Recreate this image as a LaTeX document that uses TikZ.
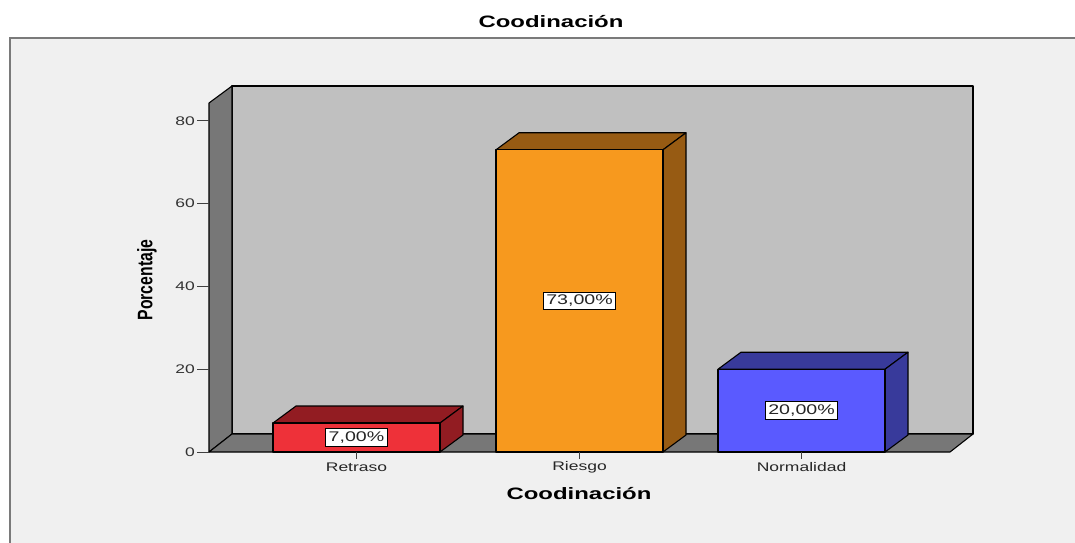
\documentclass[tikz,border=0pt]{standalone}
\usepackage{fontspec}
\setmainfont{Liberation Sans}
\newfontfamily\widefont[FakeStretch=1.4]{Liberation Sans}
\newfontfamily\titlefont[FakeStretch=1.45]{Liberation Sans}
\newfontfamily\narrowfont[FakeStretch=0.75]{Liberation Sans}
\definecolor{bgc}{HTML}{F0F0F0}
\definecolor{framec}{HTML}{7A7A7A}
\definecolor{wallc}{HTML}{C0C0C0}
\definecolor{sidec}{HTML}{777777}
\definecolor{redf}{HTML}{EE3139}
\definecolor{redd}{HTML}{921C22}
\definecolor{orf}{HTML}{F7991E}
\definecolor{ord}{HTML}{975B13}
\definecolor{blf}{HTML}{5A5AFF}
\definecolor{bld}{HTML}{383A9B}
\tikzset{
  edge/.style={draw=black, line width=1.1pt, line join=round},
  valbox/.style={draw=black, fill=white, line width=0.9pt, inner xsep=3pt, inner ysep=3pt, font=\widefont\fontsize{14}{15}\selectfont, text=black!85},
  ticklab/.style={anchor=east, inner sep=1pt, font=\widefont\fontsize{12.5}{13}\selectfont, text=black!80},
  catlab/.style={inner sep=0pt, font=\widefont\fontsize{12.5}{13}\selectfont, text=black!85},
  axtick/.style={draw=black!75, line width=1pt}
}
\begin{document}
\begin{tikzpicture}[x=1pt,y=-1pt]
\useasboundingbox (0,0) rectangle (1075,542);
\fill[white] (0,0) rectangle (1075,542);
\draw[fill=bgc, draw=framec, line width=2pt] (10,38) rectangle (1085,552);
% title
\node[font=\titlefont\bfseries\fontsize{16.5}{17}\selectfont] (title) at (551,22) {Coodinación};
% back wall, left wall, floor
\draw[edge, fill=wallc] (232,86) rectangle (973,434);
\draw[edge, fill=sidec] (209,103) -- (232,86) -- (232,434) -- (209,452) -- cycle;
\draw[edge, fill=sidec] (209,452) -- (232,434) -- (973,434) -- (950,452) -- cycle;
% y axis ticks
\foreach \v in {0,20,40,60,80}{
  \pgfmathsetmacro\yy{452-\v*4.14}
  \draw[axtick] (197,\yy) -- (209,\yy);
  \node[ticklab] (tick\v) at (196,\yy) {\v};
}
\node[rotate=90, font=\narrowfont\bfseries\fontsize{21}{22}\selectfont] (ylab) at (147,280) {Porcentaje};
% bars
\foreach \xl/\v/\fc/\dc/\n/\lab in {273/7/redf/redd/retraso/Retraso, 496/73/orf/ord/riesgo/Riesgo, 718/20/blf/bld/normal/Normalidad}{
  \pgfmathsetmacro\yt{452-\v*4.14}
  \pgfmathsetmacro\xr{\xl+167}
  \pgfmathsetmacro\xc{\xl+83.5}
  \pgfmathsetmacro\ym{(\yt+452)/2}
  \draw[edge, fill=\dc] (\xl,\yt) -- ++(23,-17) -- ++(167,0) -- ++(-23,17) -- cycle;
  \draw[edge, fill=\dc] (\xr,\yt) -- ++(23,-17) -- (\xr+23,435) -- (\xr,452) -- cycle;
  \draw[edge, fill=\fc] (\xl,\yt) rectangle (\xr,452);
  \node[valbox] (\n-val) at (\xc,\ym) {\v,00\%};
  \draw[axtick] (\xc,452) -- (\xc,459);
  \node[catlab] (\n-cat) at (\xc,467) {\lab};
}
\node[font=\titlefont\bfseries\fontsize{16.5}{17}\selectfont] (xlab) at (579,494) {Coodinación};
\end{tikzpicture}
\end{document}
